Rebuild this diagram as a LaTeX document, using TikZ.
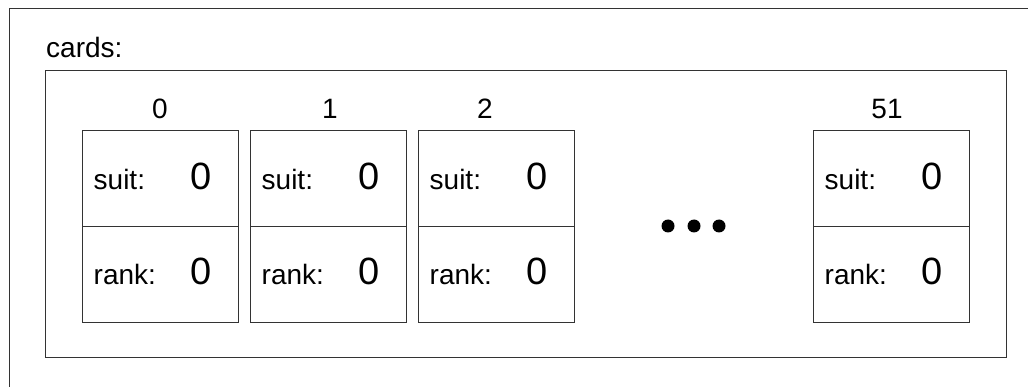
\documentclass[tikz,border=0pt]{standalone}
\usepackage{fontspec}
\setmainfont{Liberation Sans}
\begin{document}
\begin{tikzpicture}[x=1pt,y=-1pt,
  line/.style={draw=black!80,line width=1pt},
  cell/.style={line,rectangle,minimum width=156pt,minimum height=96pt,inner sep=0pt,anchor=north west},
  lbl/.style={font=\fontsize{28}{30}\selectfont,inner sep=0pt},
  big/.style={font=\fontsize{38}{40}\selectfont,inner sep=0pt,anchor=base},
  dot/.style={circle,fill=black,inner sep=0pt,minimum size=13pt}]
\useasboundingbox (0,0) rectangle (1028,387);
\clip (0,0) rectangle (1028,387);
\draw[line] (9,9) rectangle (1040,400);
\node[lbl,anchor=base west] (title) at (46,58) {cards:};
\node[line,rectangle,anchor=north west,minimum width=961pt,minimum height=287pt,inner sep=0pt] (arr) at (45,70) {};
% cards
\foreach \n/\x/\lx/\t in {c0/82/160/0, c1/250/330/1, c2/418/485/2, c51/813/887/51}{
  \node[cell] (\n s) at (\x,130) {};
  \node[cell] (\n r) at (\x,226) {};
  \node[lbl,anchor=base] (\n l) at (\lx,119) {\t};
  \node[lbl,anchor=base west] (\n st) at (\x+11.5,190) {suit:};
  \node[lbl,anchor=base west] (\n rt) at (\x+11.5,285) {rank:};
  \node[big] (\n sv) at (\x+119,190) {0};
  \node[big] (\n rv) at (\x+119,285) {0};
}
\node[dot] (d1) at (668,226) {};
\node[dot] (d2) at (694,226) {};
\node[dot] (d3) at (719,226) {};
\end{tikzpicture}
\end{document}
